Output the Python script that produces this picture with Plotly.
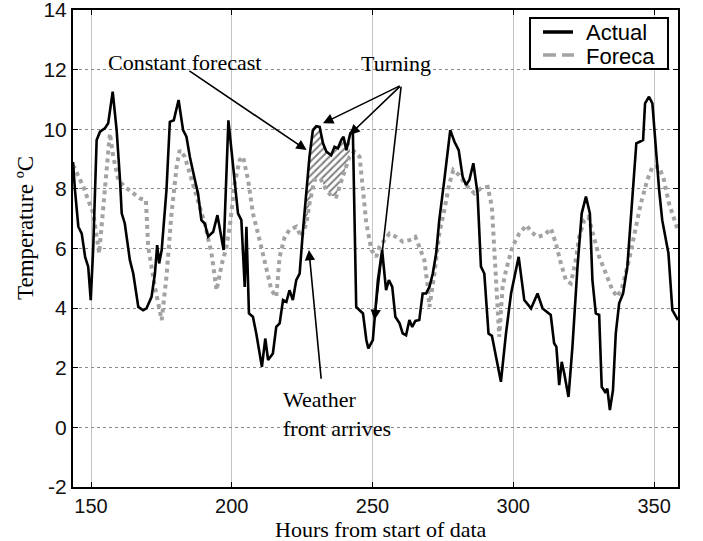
import numpy as np
import plotly.graph_objects as go

# ---------------- data ----------------
hours_actual = [
    143.6, 144.3, 145.5, 146.7, 147.9, 149.0, 149.9, 150.8, 152.0, 153.2,
    154.9, 156.1, 157.7, 159.1, 160.3, 160.9, 162.0, 163.8, 165.0, 166.8,
    168.5, 169.7, 171.5, 172.7, 173.5, 174.2, 175.1, 176.8, 178.0, 179.4,
    181.1, 182.7, 183.9, 185.1, 186.9, 188.0, 189.2, 190.4, 191.6, 193.4,
    194.9, 197.1, 198.8, 200.4, 202.2, 203.4, 204.6, 205.2, 206.1, 207.5,
    208.7, 210.7, 211.9, 212.9, 214.6, 215.8, 217.0, 218.2, 219.4, 220.5,
    221.7, 222.9, 224.1, 225.3, 226.5, 227.6, 228.8, 230.0, 231.2, 232.4,
    233.6, 235.3, 236.5, 237.7, 238.9, 239.7, 240.7, 242.1, 243.0, 243.6,
    244.2, 245.4, 246.6, 247.8, 248.5, 250.1, 251.0, 251.9, 253.4, 254.8,
    255.8, 257.0, 258.1, 259.6, 260.7, 261.9, 263.1, 264.1, 265.2, 266.6,
    267.8, 269.0, 270.2, 271.4, 272.6, 273.7, 275.5, 277.6, 279.1, 280.6,
    282.0, 283.2, 284.4, 285.8, 287.3, 288.5, 289.7, 291.2, 292.4, 293.9,
    295.6, 297.4, 299.2, 301.9, 303.9, 306.3, 308.6, 310.4, 313.3, 314.5,
    315.3, 316.3, 317.2, 318.1, 319.6, 321.0, 322.8, 324.3, 325.8, 327.2,
    328.1, 329.3, 330.5, 331.4, 332.6, 333.4, 334.3, 335.4, 336.4, 337.6,
    339.0, 340.5, 341.7, 342.9, 343.7, 344.9, 346.1, 346.8, 348.2, 349.4,
    350.6, 351.8, 352.9, 355.1, 356.5, 357.7, 358.5,
]
temp_actual = [
    8.9, 7.96, 6.73, 6.5, 5.72, 5.39, 4.27, 6.06, 9.64, 9.92,
    10.03, 10.2, 11.26, 9.97, 8.3, 7.18, 6.84, 5.61, 5.16, 4.04,
    3.93, 3.99, 4.38, 5.16, 6.11, 5.5, 5.95, 7.96, 10.25, 10.3,
    10.98, 9.97, 9.75, 9.08, 8.3, 7.85, 6.95, 6.84, 6.4, 6.56,
    7.12, 5.95, 10.3, 8.74, 7.18, 6.95, 4.71, 6.73, 3.82, 3.71,
    3.15, 2.03, 2.98, 2.26, 2.48, 3.37, 3.49, 4.27, 4.21, 4.6,
    4.27, 4.94, 5.16, 6.62, 7.96, 9.08, 9.97, 10.1, 10.08, 9.53,
    9.25, 9.13, 9.41, 9.36, 9.64, 9.75, 9.3, 9.86, 9.97, 7.18,
    4.04, 3.93, 3.82, 2.93, 2.65, 2.93, 3.82, 4.94, 5.95, 4.6,
    4.94, 4.71, 3.71, 3.49, 3.15, 3.09, 3.6, 3.37, 3.57, 3.6,
    4.49, 4.49, 4.71, 5.16, 5.84, 6.95, 8.3, 9.97, 9.58, 9.3,
    8.41, 8.13, 8.3, 8.86, 7.85, 5.39, 5.16, 3.15, 3.07, 2.37,
    1.53, 3.15, 4.49, 5.72, 4.27, 3.99, 4.49, 3.99, 3.77, 2.82,
    2.7, 1.42, 2.2, 1.81, 1.02, 2.7, 5.39, 7.18, 7.74, 7.18,
    4.94, 3.82, 3.77, 1.36, 1.19, 1.3, 0.58, 1.25, 3.15, 4.16,
    4.49, 5.39, 6.95, 8.52, 9.53, 9.58, 9.64, 10.87, 11.09, 10.87,
    9.41, 7.96, 6.95, 5.84, 3.93, 3.71, 3.6,
]

hours_forecast = [
    143.6, 145.5, 147.3, 149.0, 150.8, 152.9, 154.3, 155.5, 156.7, 157.9,
    159.7, 162.0, 164.4, 167.4, 169.5, 170.3, 172.7, 175.1, 176.8, 178.6,
    180.4, 181.5, 183.3, 185.7, 188.0, 190.4, 192.8, 194.6, 196.5, 198.0,
    199.3, 201.0, 202.8, 204.0, 205.8, 207.5, 209.9, 212.3, 214.1, 215.8,
    217.0, 218.8, 220.5, 222.9, 224.7, 226.5, 227.6, 229.4, 231.5, 233.6,
    235.5, 237.1, 239.5, 241.8, 243.5, 245.4, 246.6, 247.8, 249.6, 251.3,
    252.5, 256.0, 258.4, 260.7, 263.1, 265.2, 266.6, 268.4, 269.6, 270.2,
    272.0, 273.7, 275.5, 277.3, 278.7, 280.8, 283.2, 286.2, 288.5, 290.9,
    292.4, 293.2, 294.4, 295.0, 296.2, 297.4, 299.7, 302.1, 304.7, 306.3,
    308.6, 311.0, 313.4, 315.1, 316.9, 318.7, 320.4, 322.0, 323.4, 325.2,
    326.7, 328.4, 330.5, 332.9, 335.2, 337.0, 338.7, 341.1, 342.9, 345.3,
    347.6, 349.4, 351.8, 353.5, 355.3, 357.1, 358.5,
]
temp_forecast = [
    8.8, 8.41, 8.07, 7.62, 7.18, 5.84, 7.4, 8.74, 9.86, 9.08,
    8.3, 8.07, 7.9, 7.68, 7.62, 6.06, 4.71, 3.6, 5.05, 7.18,
    8.74, 9.3, 9.08, 8.3, 7.51, 6.84, 5.84, 4.6, 5.5, 6.0,
    6.73, 8.18, 8.97, 9.08, 8.3, 7.18, 6.28, 5.27, 4.6, 4.38,
    5.72, 6.39, 6.62, 6.73, 6.39, 6.84, 7.51, 8.3, 8.35, 7.96,
    7.75, 7.74, 8.41, 9.08, 9.25, 9.08, 7.96, 6.84, 5.95, 5.72,
    6.06, 6.5, 6.39, 6.23, 6.28, 6.39, 6.06, 5.61, 4.71, 4.04,
    5.16, 6.5, 7.29, 8.18, 8.63, 8.46, 8.13, 7.85, 8.02, 8.07,
    7.4, 6.06, 4.04, 3.04, 4.71, 5.27, 6.06, 6.5, 6.78, 6.56,
    6.39, 6.45, 6.67, 6.17, 5.5, 4.94, 4.83, 5.5, 6.39, 6.95,
    7.06, 6.5, 5.72, 5.16, 4.6, 4.38, 4.71, 5.61, 6.5, 7.51,
    8.3, 8.74, 8.74, 8.3, 7.51, 6.95, 6.6,
]

# hatched "constant forecast" window (hours)
hatch_window = [226.0, 242.0]

series_names = ["Actual", "Foreca"]
x_ticks = [150, 200, 250, 300, 350]
y_ticks = [-2, 0, 2, 4, 6, 8, 10, 12, 14]
x_range = [143.6, 358.5]
y_range = [-2, 14]

SERIF = "Liberation Serif"
SANS = "Liberation Sans"
GRAY = "#a3a3a3"

# ---------------- figure ----------------
fig = go.Figure()

hx = np.linspace(hatch_window[0], hatch_window[1], 80)
top = np.interp(hx, hours_actual, temp_actual)
bot = np.minimum(np.interp(hx, hours_forecast, temp_forecast), top)
fig.add_trace(go.Scatter(
    x=np.concatenate([hx, hx[::-1]]),
    y=np.concatenate([top, bot[::-1]]),
    fill="toself", mode="lines", line=dict(width=0, color="black"),
    fillcolor="rgba(0,0,0,0)",
    fillpattern=dict(shape="/", fgcolor="black", bgcolor="white",
                     size=5, solidity=0.4),
    showlegend=False, hoverinfo="skip",
))

fig.add_trace(go.Scatter(
    x=hours_forecast, y=temp_forecast, mode="lines",
    line=dict(color=GRAY, width=4, dash="4px,4px"),
    showlegend=False, name="Forecast",
))

fig.add_trace(go.Scatter(
    x=hours_actual, y=temp_actual, mode="lines",
    line=dict(color="black", width=2.6),
    name=series_names[0], showlegend=False,
))

# ---------------- annotations ----------------
ann = []
ann.append(dict(x=183.3, y=12.25, text="Constant forecast", showarrow=False,
                font=dict(family=SERIF, size=22, color="black")))
ann.append(dict(x=258.5, y=12.22, text="Turning", showarrow=False,
                font=dict(family=SERIF, size=22, color="black")))
ann.append(dict(x=217.4, y=0.44, text="Weather<br>front arrives", showarrow=False,
                xanchor="left", align="left",
                font=dict(family=SERIF, size=22, color="black")))

arrows = [
    ((184.4, 11.99), (226.6, 9.30)),
    ((260.2, 11.48), (232.4, 10.2)),
    ((260.2, 11.48), (241.8, 9.81)),
    ((260.2, 11.48), (250.7, 3.6)),
    ((231.8, 1.58), (227.4, 5.95)),
]
for (tx, ty), (hx_, hy_) in arrows:
    ann.append(dict(x=hx_, y=hy_, ax=tx, ay=ty, xref="x", yref="y",
                    axref="x", ayref="y", text="", showarrow=True,
                    arrowhead=2, arrowsize=1.3, arrowwidth=1.6,
                    arrowcolor="black"))


def px_x(p):
    return (p - 73) / 605.0


def px_y(p):
    return (487 - p) / 477.0


# axis titles (placed like the original)
ann.append(dict(x=px_x(25), y=px_y(228), xref="paper", yref="paper",
                text="Temperature ºC", textangle=-90, showarrow=False,
                xanchor="center", yanchor="middle",
                font=dict(family=SERIF, size=23, color="black")))
ann.append(dict(x=px_x(381), y=px_y(529), xref="paper", yref="paper",
                text="Hours from start of data", showarrow=False,
                xanchor="center", yanchor="middle",
                font=dict(family=SERIF, size=22, color="black")))

# ---------------- legend box (drawn like the original) ----------------
shapes = [
    dict(type="rect", xref="paper", yref="paper",
         x0=px_x(530), x1=px_x(668), y0=px_y(69), y1=px_y(18),
         line=dict(color="black", width=2), fillcolor="white", layer="above"),
    dict(type="line", xref="paper", yref="paper",
         x0=px_x(543), x1=px_x(573), y0=px_y(32), y1=px_y(32),
         line=dict(color="black", width=3.5), layer="above"),
    dict(type="line", xref="paper", yref="paper",
         x0=px_x(543), x1=px_x(574), y0=px_y(55), y1=px_y(55),
         line=dict(color=GRAY, width=3.5, dash="13px,6px"), layer="above"),
]
ann.append(dict(x=px_x(584), y=px_y(33), xref="paper", yref="paper",
                text=series_names[0], showarrow=False, xanchor="left",
                yanchor="middle", font=dict(family=SANS, size=22, color="black")))
ann.append(dict(x=px_x(584), y=px_y(56), xref="paper", yref="paper",
                text=series_names[1], showarrow=False, xanchor="left",
                yanchor="middle", font=dict(family=SANS, size=22, color="black")))

fig.update_layout(
    width=703, height=541,
    margin=dict(l=73, r=25, t=10, b=54, autoexpand=False),
    paper_bgcolor="white", plot_bgcolor="white",
    annotations=ann, shapes=shapes,
    showlegend=False,
    xaxis=dict(
        range=x_range, tickvals=x_ticks, ticktext=[str(v) for v in x_ticks],
        showgrid=True, gridcolor="#c4c4c4", gridwidth=1,
        showline=True, linecolor="black", linewidth=2, mirror="ticks",
        ticks="inside", ticklen=5, tickcolor="black", tickwidth=1,
        tickfont=dict(family=SANS, size=20, color="#111"),
        zeroline=False,
    ),
    yaxis=dict(
        range=y_range, tickvals=y_ticks, ticktext=[str(v) for v in y_ticks],
        showgrid=True, gridcolor="#8a8a8a", gridwidth=1, griddash="dot",
        showline=True, linecolor="black", linewidth=2, mirror="ticks",
        ticks="inside", ticklen=5, tickcolor="black", tickwidth=1,
        tickfont=dict(family=SANS, size=21, color="#111"),
        ticklabeloverflow="allow",
        zeroline=False,
    ),
)

fig.write_html("out.html")
